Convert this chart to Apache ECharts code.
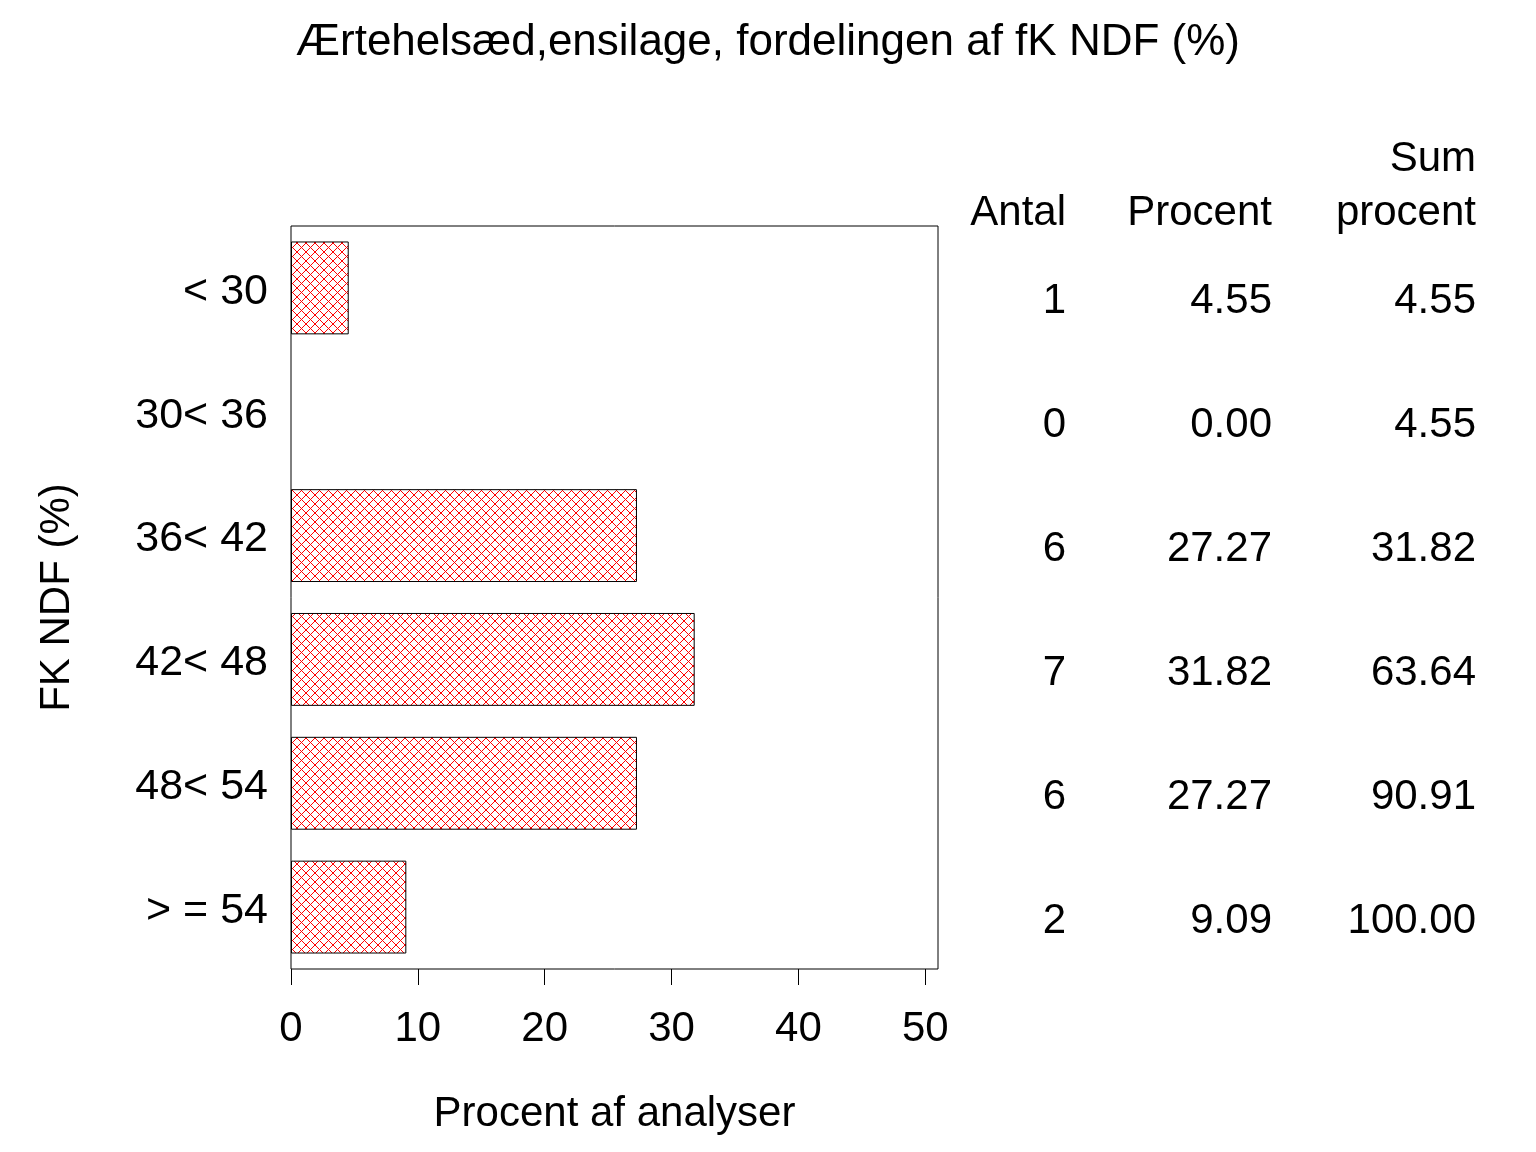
<!DOCTYPE html>
<html>
<head>
<meta charset="utf-8">
<script src="https://cdn.jsdelivr.net/npm/echarts@6/dist/echarts.min.js"></script>
<style>
html,body{margin:0;padding:0;background:#fff;}
#chart{width:1536px;height:1152px;}
</style>
</head>
<body>
<div id="chart"></div>
<script>
const categories = ['< 30', '30< 36', '36< 42', '42< 48', '48< 54', '> = 54'];
const antal = [1, 0, 6, 7, 6, 2];
const procent = [4.55, 0.00, 27.27, 31.82, 27.27, 9.09];
const sumProcent = [4.55, 4.55, 31.82, 63.64, 90.91, 100.00];
const xTicks = [0, 10, 20, 30, 40, 50];

const FONT = 'Liberation Sans';

// crosshatch pattern
const pat = document.createElement('canvas');
pat.width = 9; pat.height = 9;
const pc = pat.getContext('2d');
pc.fillStyle = '#ffffff';
pc.fillRect(0, 0, 9, 9);
pc.strokeStyle = '#ff0000';
pc.lineWidth = 1;
pc.beginPath();
pc.moveTo(0, 0); pc.lineTo(9, 9);
pc.moveTo(9, 0); pc.lineTo(0, 9);
pc.stroke();

const chart = echarts.init(document.getElementById('chart'), null, {renderer: 'canvas'});

function tableAxis(offset, arr, fmt, name) {
  return {
    type: 'category',
    gridIndex: 0,
    position: 'right',
    offset: offset,
    inverse: true,
    data: categories,
    axisLine: {show: false},
    axisTick: {show: false},
    axisLabel: {
      margin: 0,
      align: 'right',
      verticalAlign: 'top',
      lineHeight: 28,
      fontFamily: FONT,
      fontSize: 42,
      color: '#000',
      formatter: function (v, i) { return fmt(arr[i]); }
    },
    name: name,
    nameLocation: 'start',
    nameGap: -14,
    nameTextStyle: {
      fontFamily: FONT,
      fontSize: 42,
      color: '#000',
      align: 'right',
      verticalAlign: 'bottom',
      lineHeight: 54
    }
  };
}

const option = {
  backgroundColor: '#ffffff',
  animation: false,
  title: {
    text: 'Ærtehelsæd,ensilage, fordelingen af fK NDF (%)',
    left: 'center',
    top: 16,
    textStyle: {fontFamily: FONT, fontSize: 44, fontWeight: 'normal', color: '#000'}
  },
  grid: {
    left: 291, right: 598, top: 226, bottom: 183,
    show: true, borderColor: '#000', borderWidth: 1, backgroundColor: 'transparent'
  },
  xAxis: {
    type: 'value',
    min: 0,
    max: 51,
    interval: 10,
    splitLine: {show: false},
    axisLine: {show: false},
    axisTick: {show: true, length: 16, lineStyle: {color: '#000', width: 1}, customValues: xTicks},
    axisLabel: {
      customValues: xTicks,
      margin: 39,
      fontFamily: FONT, fontSize: 42, color: '#000'
    },
    name: 'Procent af analyser',
    nameLocation: 'middle',
    nameGap: 124,
    nameTextStyle: {fontFamily: FONT, fontSize: 42, color: '#000'}
  },
  yAxis: [
    {
      type: 'category',
      inverse: true,
      data: categories,
      axisLine: {show: false},
      axisTick: {show: false},
      axisLabel: {margin: 23, verticalAlign: 'top', lineHeight: 8, fontFamily: FONT, fontSize: 43, color: '#000'},
      name: 'FK NDF (%)',
      nameLocation: 'middle',
      nameGap: 213,
      nameTextStyle: {fontFamily: FONT, fontSize: 42, color: '#000'}
    },
    tableAxis(128, antal, function (v) { return String(v); }, 'Antal'),
    tableAxis(334, procent, function (v) { return v.toFixed(2); }, 'Procent'),
    tableAxis(538, sumProcent, function (v) { return v.toFixed(2); }, 'Sum\nprocent')
  ],
  series: [{
    type: 'bar',
    yAxisIndex: 0,
    data: procent.map(function (v) {
      return v === 0 ? {value: v, itemStyle: {borderWidth: 0}} : v;
    }),
    barCategoryGap: '25%',
    itemStyle: {
      color: {image: pat, repeat: 'repeat'},
      borderColor: '#000',
      borderWidth: 1
    }
  }]
};
chart.setOption(option);
</script>
</body>
</html>
